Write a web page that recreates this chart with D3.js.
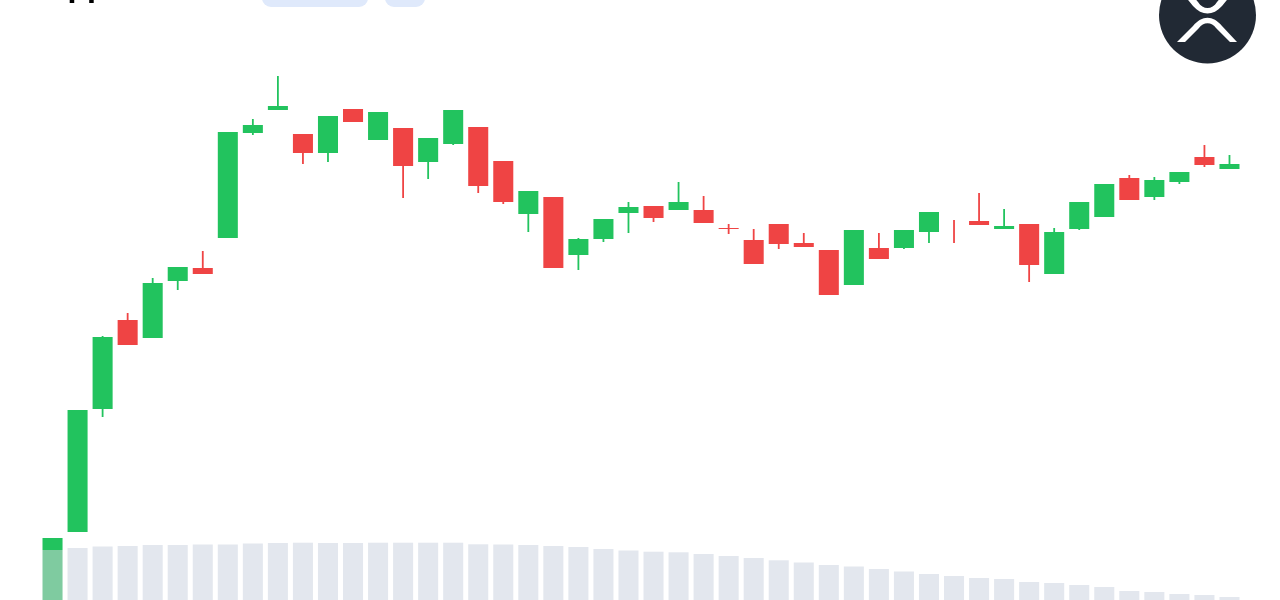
<!DOCTYPE html>
<html><head><meta charset="utf-8">
<script src="https://cdn.jsdelivr.net/npm/d3@7"></script>
<style>html,body{margin:0;padding:0;background:#fff;overflow:hidden}svg{display:block;filter:blur(0.5px)}</style>
</head><body><svg id="c" width="1280" height="600"></svg>
<script>
const titleMain = "Ripple";
const titleSub = "(XRP)";
const opens  = [0.50,0.68,1.91,2.80,2.62,3.19,3.32,3.62,4.67,4.90,4.66,4.47,4.91,4.60,4.72,4.38,4.56,4.73,4.39,3.86,4.03,3.45,3.61,3.87,3.94,3.90,3.90,3.72,3.60,3.76,3.57,3.50,3.15,3.52,3.52,3.68,3.68,3.79,3.71,3.76,3.26,3.71,3.83,4.22,4.03,4.18,4.43,4.31];
const closes = [0.62,1.90,2.63,2.55,3.17,3.33,3.26,4.68,4.75,4.94,4.47,4.84,4.78,4.88,4.34,4.62,4.90,4.14,3.98,4.09,3.32,3.61,3.81,3.93,3.82,3.98,3.77,3.71,3.36,3.56,3.53,3.05,3.70,3.41,3.70,3.88,3.68,3.75,3.74,3.35,3.68,3.98,4.16,4.00,4.20,4.28,4.35,4.36];
const highs  = [0.62,1.90,2.64,2.87,3.22,3.33,3.49,4.68,4.81,5.24,4.66,4.84,4.91,4.88,4.72,4.62,4.90,4.73,4.39,4.09,4.03,3.62,3.81,3.98,3.94,4.18,4.04,3.76,3.71,3.76,3.67,3.50,3.70,3.67,3.70,3.88,3.80,4.07,3.91,3.76,3.72,3.98,4.16,4.25,4.23,4.28,4.55,4.45];
const lows   = [0.50,0.68,1.83,2.55,2.62,3.10,3.26,3.62,4.65,4.90,4.36,4.38,4.78,4.60,4.02,4.21,4.55,4.07,3.96,3.68,3.32,3.30,3.58,3.67,3.78,3.90,3.77,3.66,3.36,3.51,3.53,3.05,3.15,3.41,3.51,3.57,3.57,3.75,3.71,3.18,3.26,3.70,3.83,4.00,4.00,4.16,4.33,4.31];
const volumes= [50,52,53.5,54,55,55,55.5,55.5,56.5,57,57.3,57,57,57.3,57.3,57.3,57.3,55.7,55.5,55,54,53,51,49.5,48.3,47.7,46,44,42,39.7,37.5,35,33.5,31,28.5,26,24,22,21,18,17,15,13,9,8,6,5,3];

const colors = {up:"#22c35e", down:"#ef4444", vol:"#e3e7ee", volFirst:"#7fcba0", pill:"#dfe9fb", logo:"#212934"};
const idx = d3.range(opens.length);
const x = d3.scaleBand().domain(idx).range([40,1242]).paddingInner(0.2).paddingOuter(0.1);
const y = d3.scaleLinear().domain([0,6]).range([600,0]);
const yVol = d3.scaleLinear().domain([0,100]).range([600,500]);
const svg = d3.select("#c");
const col = i => closes[i] > opens[i] ? colors.up : colors.down;

// header, cut by the top of the frame
const title = svg.append("text").attr("x",39).attr("y",-3.5)
  .style("font-family","Inter").style("font-size","31px").style("font-weight",700);
title.append("tspan").attr("fill","#000").text(titleMain);
title.append("tspan").attr("dx",23).attr("fill","#8a94a3").style("font-size","30px").style("font-weight",500).text(titleSub);
svg.append("rect").attr("x",262).attr("y",-20).attr("width",106).attr("height",27).attr("rx",9).attr("fill",colors.pill);
svg.append("rect").attr("x",385).attr("y",-20).attr("width",40).attr("height",27).attr("rx",9).attr("fill",colors.pill);

// coin badge
const logo = svg.append("g");
logo.append("circle").attr("cx",1207.5).attr("cy",15).attr("r",48.5).attr("fill",colors.logo);
logo.selectAll("path").data([
  "M1177,42 L1185,42 L1199,28 C1203,21.5 1212,21.5 1216,28 L1230,42 L1237,42 L1222,26 C1213,15 1202,15 1193,26 Z",
  "M1184,-5 L1192,-5 L1198,2 C1203,10 1212,10 1217,2 L1223,-5 L1231,-5 L1222,6 C1213,16 1202,16 1193,6 Z"])
  .join("path").attr("d",d=>d).attr("fill","#fff");

// volume
svg.append("g").selectAll("rect").data(idx).join("rect")
  .attr("x",i=>x(i)).attr("width",x.bandwidth())
  .attr("y",i=>yVol(volumes[i])).attr("height",i=>yVol(0)-yVol(volumes[i]))
  .attr("fill",i=>i===0?colors.volFirst:colors.vol);

// wicks
svg.append("g").selectAll("line").data(idx).join("line")
  .attr("x1",i=>x(i)+x.bandwidth()/2).attr("x2",i=>x(i)+x.bandwidth()/2)
  .attr("y1",i=>y(highs[i])).attr("y2",i=>y(lows[i]))
  .attr("stroke",col).attr("stroke-width",1.8);

// bodies
svg.append("g").selectAll("rect").data(idx).join("rect")
  .attr("x",i=>x(i)).attr("width",x.bandwidth())
  .attr("y",i=>y(Math.max(opens[i],closes[i])))
  .attr("height",i=>Math.abs(y(opens[i])-y(closes[i])))
  .attr("fill",col);
</script></body></html>
